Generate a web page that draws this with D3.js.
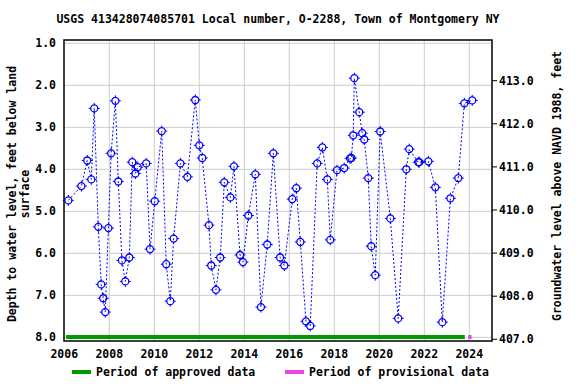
<!DOCTYPE html>
<html><head><meta charset="utf-8">
<script src="https://cdn.jsdelivr.net/npm/d3@7"></script>
<style>body{margin:0;background:#fff}svg{display:block}text{font-family:"DejaVu Sans Mono",monospace;font-weight:bold;fill:#000}</style>
</head><body><div id="c"></div>
<script>
const titleText = "USGS 413428074085701 Local number, O-2288, Town of Montgomery NY";
const yearTicks = [2006,2008,2010,2012,2014,2016,2018,2020,2022,2024];
const depthTicks = [1,2,3,4,5,6,7,8];
const altTicks = [407,408,409,410,411,412,413];
const dates = [2006.18,2006.76,2007.02,2007.2,2007.33,2007.51,2007.64,2007.73,2007.82,2007.96,
 2008.08,2008.27,2008.4,2008.56,2008.71,2008.89,2009.02,2009.16,2009.26,2009.64,2009.81,2010.02,
 2010.33,2010.53,2010.71,2010.86,2011.16,2011.47,2011.82,2012.0,2012.13,2012.43,2012.53,2012.74,
 2012.93,2013.11,2013.38,2013.54,2013.81,2013.94,2014.18,2014.49,2014.74,2015.02,2015.29,2015.59,
 2015.78,2016.13,2016.31,2016.49,2016.74,2016.93,2017.24,2017.47,2017.69,2017.82,2018.12,2018.44,
 2018.7,2018.76,2018.84,2018.89,2019.11,2019.24,2019.33,2019.51,2019.64,2019.82,2020.04,2020.49,
 2020.84,2021.2,2021.33,2021.73,2021.78,2022.18,2022.49,2022.8,2023.16,2023.51,2023.78,2024.13];
const depth = [4.74,4.40,3.79,4.24,2.55,5.37,6.74,7.07,7.40,5.40,
 3.62,2.37,4.29,6.17,6.67,6.10,3.83,4.10,3.95,3.86,5.90,4.76,
 3.09,6.26,7.14,5.65,3.86,4.18,2.35,3.43,3.73,5.33,6.29,6.87,
 6.10,4.31,4.67,3.93,6.04,6.21,5.10,4.12,7.28,5.79,3.62,6.10,
 6.29,4.71,4.45,5.73,7.62,7.73,3.86,3.48,4.24,5.68,4.02,3.97,
 3.74,3.73,3.19,1.83,2.64,3.14,3.29,4.21,5.83,6.52,3.10,5.17,
 7.55,4.00,3.52,3.83,3.83,3.81,4.43,7.64,4.69,4.21,2.43,2.36];
const approvedPeriod = [2006.08, 2023.8];
const provisionalPeriod = [2023.95, 2024.1];
const legendLabels = ["Period of approved data","Period of provisional data"];

const W=576,H=384, L=64, R=492, T=40, B=341, FS=11.5;
const svg=d3.select("#c").append("svg").attr("width",W).attr("height",H);
const x=d3.scaleLinear().domain([2006,2025]).range([64.3,491.8]);
const y=d3.scaleLinear().domain([1,8]).range([43.3,337.3]);
const y2=d3.scaleLinear().domain([407,413]).range([339.3,80.7]);
const blue="#0000ff";

// grid
svg.append("g").selectAll("line").data(depthTicks).join("line")
 .attr("x1",L).attr("x2",R).attr("y1",d=>y(d)).attr("y2",d=>y(d)).attr("stroke","#cccccc").attr("stroke-width",1);
svg.append("g").selectAll("line").data(yearTicks.filter(d=>d>2006)).join("line")
 .attr("y1",T).attr("y2",B).attr("x1",d=>x(d)).attr("x2",d=>x(d)).attr("stroke","#cccccc").attr("stroke-width",1);

// periods
svg.append("line").attr("x1",x(approvedPeriod[0])).attr("x2",x(approvedPeriod[1])).attr("y1",337).attr("y2",337)
 .attr("stroke","#009900").attr("stroke-width",4);
svg.append("line").attr("x1",x(provisionalPeriod[0])).attr("x2",x(provisionalPeriod[1])).attr("y1",337).attr("y2",337)
 .attr("stroke","#ee44dd").attr("stroke-width",4);

// line
const pts=dates.map((d,i)=>[d,depth[i]]);
svg.append("path").datum(pts).attr("fill","none").attr("stroke",blue).attr("stroke-width",1)
 .attr("stroke-dasharray","2,2").attr("d",d3.line().x(d=>x(d[0])).y(d=>y(d[1])));
const mk=svg.append("g").selectAll("g").data(pts).join("g").attr("transform",d=>`translate(${x(d[0])},${y(d[1])})`);
mk.append("circle").attr("r",3.5).attr("fill","none").attr("stroke",blue).attr("stroke-width",1.3);
[[0,-1],[0,1],[-1,0],[1,0]].forEach(([a,b])=>{
 mk.append("line").attr("x1",a*3.5).attr("y1",b*3.5).attr("x2",a*5.5).attr("y2",b*5.5).attr("stroke",blue).attr("stroke-width",1);
});

// border
svg.append("rect").attr("x",L).attr("y",T).attr("width",R-L).attr("height",B-T).attr("fill","none").attr("stroke","#000").attr("stroke-width",1.5);

// left labels
svg.append("g").selectAll("text").data(depthTicks).join("text").attr("x",56).attr("y",d=>y(d)+4)
 .attr("text-anchor","end").attr("font-size",FS).text(d=>d.toFixed(1));
// right ticks
svg.append("g").selectAll("line").data(altTicks).join("line").attr("x1",R).attr("x2",R+5)
 .attr("y1",d=>y2(d)).attr("y2",d=>y2(d)).attr("stroke","#000");
svg.append("g").selectAll("text").data(altTicks).join("text").attr("x",499).attr("y",d=>y2(d)+4)
 .attr("font-size",FS).text(d=>d.toFixed(1));
// bottom labels
svg.append("g").selectAll("text").data(yearTicks).join("text").attr("x",d=>x(d)).attr("y",358)
 .attr("text-anchor","middle").attr("font-size",FS).text(d=>d);

// title
svg.append("text").attr("x",278).attr("y",23).attr("text-anchor","middle").attr("font-size",FS).text(titleText);
// axis titles
svg.append("text").attr("transform","translate(16,194) rotate(-90)").attr("text-anchor","middle").attr("font-size",FS)
 .text("Depth to water level, feet below land");
svg.append("text").attr("transform","translate(29,194) rotate(-90)").attr("text-anchor","middle").attr("font-size",FS)
 .text("surface");
svg.append("text").attr("transform","translate(561,186) rotate(-90)").attr("text-anchor","middle").attr("font-size",FS)
 .text("Groundwater level above NAVD 1988, feet");

// legend
svg.append("line").attr("x1",72).attr("x2",91).attr("y1",372).attr("y2",372).attr("stroke","#009900").attr("stroke-width",4);
svg.append("text").attr("x",96).attr("y",376).attr("font-size",FS).text(legendLabels[0]);
svg.append("line").attr("x1",285).attr("x2",304).attr("y1",372).attr("y2",372).attr("stroke","#ee44dd").attr("stroke-width",4);
svg.append("text").attr("x",309).attr("y",376).attr("font-size",FS).text(legendLabels[1]);
</script></body></html>
